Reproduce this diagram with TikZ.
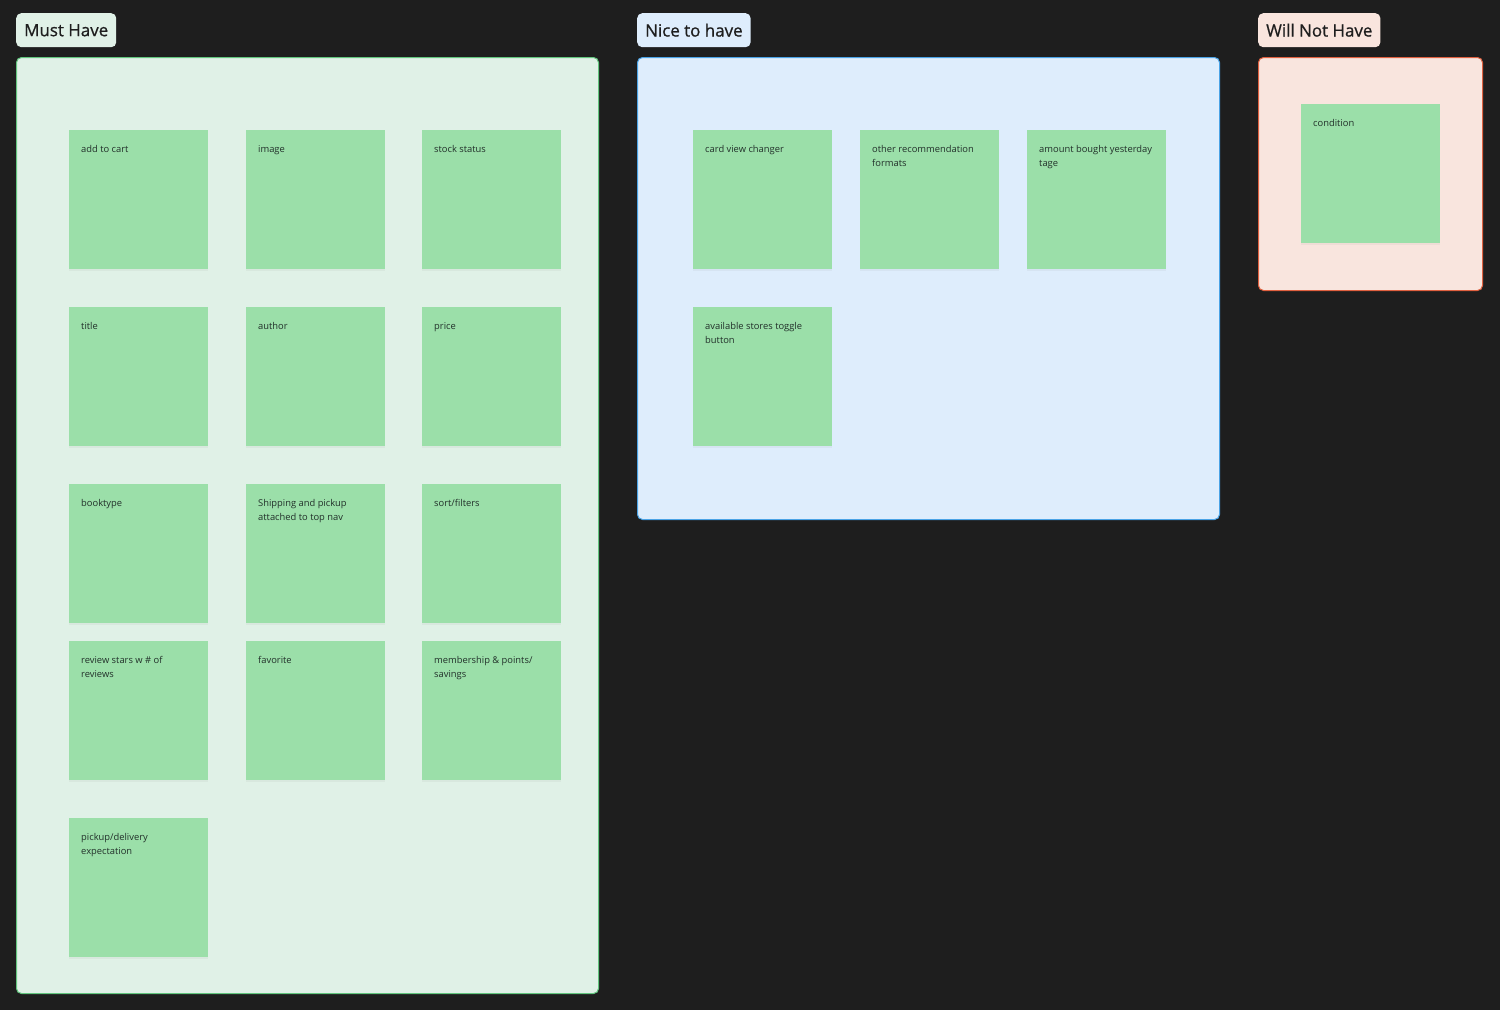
\documentclass[tikz,border=0pt]{standalone}
\usepackage{fontspec}
\setmainfont{Open Sans}
\newfontfamily\headfont[FakeBold=0.7]{Open Sans}
\usepackage{xcolor}
\usepackage{tikz}
\usetikzlibrary{shadows}

\definecolor{boardbg}{HTML}{1E1E1E}
\definecolor{mustfill}{HTML}{E0F1E7}
\definecolor{mustline}{HTML}{62C67E}
\definecolor{nicefill}{HTML}{DEEDFC}
\definecolor{niceline}{HTML}{4AA3E6}
\definecolor{wontfill}{HTML}{F9E5DE}
\definecolor{wontline}{HTML}{E0603F}
\definecolor{notegreen}{HTML}{9BDFA9}
\definecolor{notetext}{HTML}{22302A}

\begin{document}
\begin{tikzpicture}[
    x=1bp,y=-1bp,
    heading/.style={anchor=north west,rounded corners=5bp,minimum height=34bp,
      inner xsep=8bp,inner ysep=0bp,text=boardbg,font=\headfont\fontsize{17}{17}\selectfont},
    frame/.style={anchor=north west,draw,line width=1bp,rounded corners=5bp,inner sep=0bp},
    note/.style={anchor=north west,fill=notegreen,minimum width=139bp,minimum height=139bp,
      inner sep=0bp,drop shadow={opacity=0.08,shadow xshift=0bp,shadow yshift=-2bp}},
    note text/.style={anchor=north west,inner xsep=12bp,inner ysep=15.5bp,align=left,
      text=notetext,font=\fontsize{9.4}{14}\selectfont}
  ]
    \fill[boardbg] (0,0) rectangle (1500,1010);

    \node[heading,fill=mustfill] (musttitle) at (16,13) {Must Have};
    \node[heading,fill=nicefill] (nicetitle) at (637,13) {Nice to have};
    \node[heading,fill=wontfill] (wonttitle) at (1258,13) {Will Not Have};

    \node[frame,draw=mustline,fill=mustfill,minimum width=582bp,minimum height=936bp] (mustframe) at (16,57) {};
    \node[frame,draw=niceline,fill=nicefill,minimum width=582bp,minimum height=462bp] (niceframe) at (637,57) {};
    \node[frame,draw=wontline,fill=wontfill,minimum width=224bp,minimum height=233bp] (wontframe) at (1258,57) {};

    \node[note,label={[note text]north west:add to cart}] (addcart) at (69,130) {};
    \node[note,label={[note text]north west:image}] (image) at (246,130) {};
    \node[note,label={[note text]north west:stock status}] (stock) at (422,130) {};
    \node[note,label={[note text]north west:title}] (title) at (69,307) {};
    \node[note,label={[note text]north west:author}] (author) at (246,307) {};
    \node[note,label={[note text]north west:price}] (price) at (422,307) {};
    \node[note,label={[note text]north west:booktype}] (booktype) at (69,484) {};
    \node[note,label={[note text]north west:Shipping and pickup\\attached to top nav}] (shipping) at (246,484) {};
    \node[note,label={[note text]north west:sort/filters}] (sort) at (422,484) {};
    \node[note,label={[note text]north west:review stars w \# of\\reviews}] (review) at (69,641) {};
    \node[note,label={[note text]north west:favorite}] (favorite) at (246,641) {};
    \node[note,label={[note text]north west:membership \& points/\\savings}] (membership) at (422,641) {};
    \node[note,label={[note text]north west:pickup/delivery\\expectation}] (delivery) at (69,818) {};

    \node[note,label={[note text]north west:card view changer}] (cardview) at (693,130) {};
    \node[note,label={[note text]north west:other recommendation\\formats}] (recommend) at (860,130) {};
    \node[note,label={[note text]north west:amount bought yesterday\\tage}] (amount) at (1027,130) {};
    \node[note,label={[note text]north west:available stores toggle\\button}] (stores) at (693,307) {};

    \node[note,label={[note text]north west:condition}] (condition) at (1301,104) {};
  \end{tikzpicture}
\end{document}
